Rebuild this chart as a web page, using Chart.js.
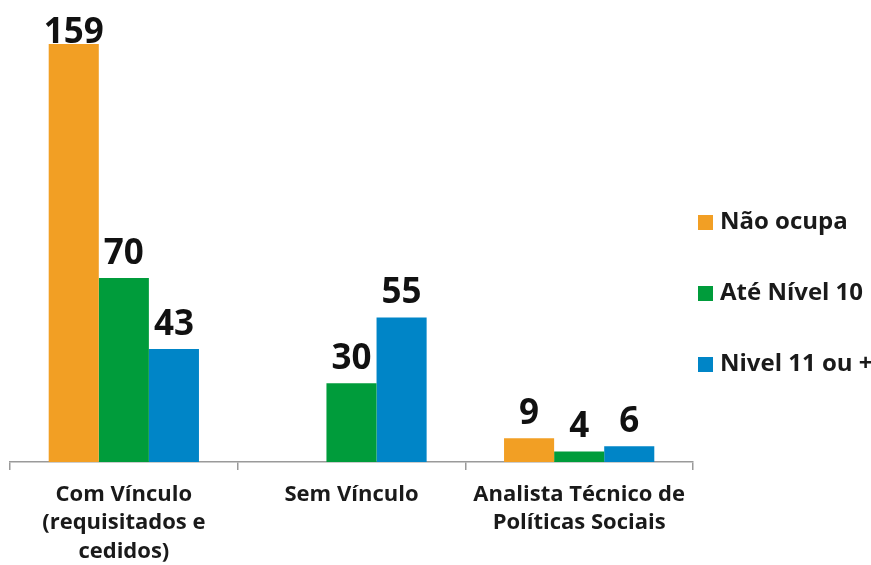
<!DOCTYPE html>
<html>
<head>
<meta charset="utf-8">
<script src="https://cdn.jsdelivr.net/npm/chart.js@4"></script>
<style>
  body { margin: 0; background: #fff; }
  #wrap { position: relative; width: 871px; height: 565px; }
  #legend { position: absolute; left: 698px; top: 206px; font-family: 'Open Sans', sans-serif; font-weight: 700; font-size: 24px; color: #1a1a1a; }
  #legend div { height: 71px; line-height: 28px; white-space: nowrap; }
  #legend span { display: inline-block; width: 15px; height: 15px; margin-right: 7px; vertical-align: -1px; }
</style>
</head>
<body>
<div id="wrap">
  <canvas id="chart" width="871" height="565"></canvas>
  <div id="legend"></div>
</div>
<script>
// Categories and series
const categories = [
    ['Com Vínculo', '(requisitados e', 'cedidos)'],
    ['Sem Vínculo'],
    ['Analista Técnico de', 'Políticas Sociais']
];
const seriesNames = ['Não ocupa', 'Até Nível 10', 'Nivel 11 ou +'];
const naoOcupa = [159, null, 9];
const ateNivel10 = [70, 30, 4];
const nivel11 = [43, 55, 6];
const colors = ['#F29F24', '#009C3B', '#0085C7'];

// Value labels above each bar
const valueLabels = {
    id: 'valueLabels',
    afterDatasetsDraw(chart) {
        const ctx = chart.ctx;
        ctx.save();
        ctx.font = 'bold 35px "Open Sans"';
        ctx.fillStyle = '#111';
        ctx.textAlign = 'center';
        ctx.textBaseline = 'alphabetic';
        chart.data.datasets.forEach((ds, i) => {
            chart.getDatasetMeta(i).data.forEach((bar, j) => {
                if (ds.data[j] == null) return;
                const y = Math.max(bar.y - 14, 43);
                ctx.fillText(ds.data[j], bar.x, y);
            });
        });
        ctx.restore();
    }
};

const seriesData = [naoOcupa, ateNivel10, nivel11];

const chart = new Chart(document.getElementById('chart').getContext('2d'), {
    type: 'bar',
    data: {
        labels: categories,
        datasets: seriesNames.map((name, i) => ({
            label: name,
            data: seriesData[i],
            backgroundColor: colors[i],
            categoryPercentage: 0.66,
            barPercentage: 1
        }))
    },
    options: {
        responsive: false,
        animation: false,
        layout: { padding: { top: 44, left: 10, right: 178, bottom: 0 } },
        plugins: {
            legend: { display: false },
            tooltip: { enabled: false }
        },
        scales: {
            y: {
                display: false,
                min: 0,
                max: 159
            },
            x: {
                afterFit(scale) { scale.height = 103; },
                border: { display: true, color: '#9a9a9a', width: 1.5 },
                grid: {
                    offset: true,
                    drawOnChartArea: false,
                    drawTicks: true,
                    tickLength: 8,
                    color: '#9a9a9a',
                    lineWidth: 1.5
                },
                ticks: {
                    color: '#1a1a1a',
                    padding: 10,
                    maxRotation: 0,
                    autoSkip: false,
                    font: { family: 'Open Sans', weight: '700', size: 22, lineHeight: 1.3 }
                }
            }
        }
    },
    plugins: [valueLabels]
});

// Legend as HTML
const legend = document.getElementById('legend');
seriesNames.forEach((name, i) => {
    const row = document.createElement('div');
    row.innerHTML = '<span style="background:' + colors[i] + '"></span>' + name;
    legend.appendChild(row);
});
</script>
</body>
</html>
